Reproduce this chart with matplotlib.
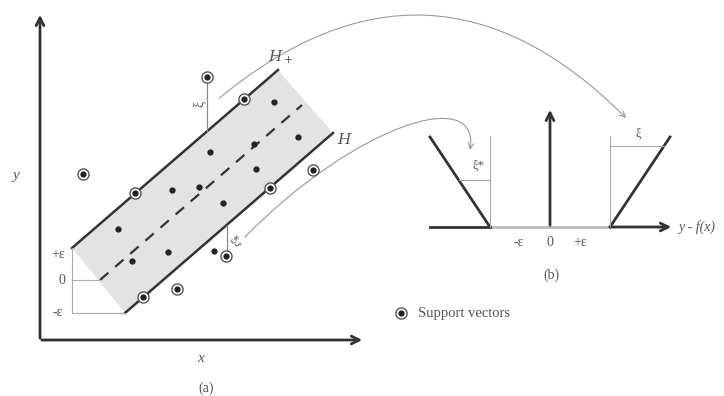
import matplotlib.pyplot as plt
from matplotlib.patches import Polygon, FancyArrowPatch
from matplotlib.path import Path

# Puntos del diagrama (coordenadas en pixeles de la imagen)
dots_x = [274, 210, 254, 298, 256, 172, 199, 118, 223, 168, 132, 214]
dots_y = [102, 152, 144, 137, 169, 190, 187, 229, 203, 252, 261, 251]
sv_x = [207, 244, 313, 83, 135, 270, 226, 177, 143]
sv_y = [77, 99, 170, 174, 193, 188, 256, 289, 297]

# Banda epsilon (H+ arriba, H- abajo)
upper_x = [72, 278]
upper_y = [248, 70]
lower_x = [125, 333]
lower_y = [313, 133]
center_x = [100, 302]
center_y = [280, 105]

# Funcion de perdida (b)
loss_left_x = [430, 490]
loss_left_y = [137, 227]
loss_right_x = [610, 670]
loss_right_y = [227, 137]
loss_ticks = ['-ε', '0', '+ε']
loss_ticks_x = [519, 550, 580]

ink = '#333333'
txt = '#555555'
thin = '#aaaaaa'
serif = ['Liberation Serif', 'DejaVu Serif']

fig = plt.figure(figsize=(7.24, 3.96), dpi=100)
ax = fig.add_axes([0, 0, 1, 1])
ax.set_xlim(0, 724)
ax.set_ylim(396, 0)
ax.axis('off')

# ---- panel (a) ----
ax.annotate('', xy=(40, 12), xytext=(40, 341),
            arrowprops=dict(arrowstyle='->', color=ink, lw=2, mutation_scale=14))
ax.annotate('', xy=(365, 340), xytext=(39, 340),
            arrowprops=dict(arrowstyle='->', color=ink, lw=2, mutation_scale=14))

band = Polygon([(upper_x[0], upper_y[0]), (upper_x[1], upper_y[1]),
                (lower_x[1], lower_y[1]), (lower_x[0], lower_y[0])],
               closed=True, facecolor='#e3e3e3', edgecolor='none', zorder=1)
ax.add_patch(band)
ax.plot(upper_x, upper_y, color=ink, lw=1.8, zorder=2)
ax.plot(lower_x, lower_y, color=ink, lw=1.8, zorder=2)
ax.plot(center_x, center_y, color=ink, lw=1.6, dashes=(5, 4), zorder=2)

# lineas de referencia epsilon
ax.plot([72, 72], [248, 313], color=thin, lw=0.8)
ax.plot([72, 100], [280, 280], color=thin, lw=0.8)
ax.plot([72, 125], [313, 313], color=thin, lw=0.8)
ax.text(58, 255, '+ε', ha='center', va='center', fontsize=10, color=txt, family=serif)
ax.text(62, 281, '0', ha='center', va='center', fontsize=10, color=txt, family=serif)
ax.text(58, 312, '-ε', ha='center', va='center', fontsize=10, color=txt, family=serif)

# holguras
ax.plot([207, 207], [82, 131], color='#888888', lw=0.9)
ax.text(199, 104, 'ξ', ha='center', va='center', fontsize=10, color=txt,
        family=serif, rotation=90)
ax.plot([227, 227], [225, 251], color='#888888', lw=0.9)
ax.text(238, 240, 'ξ*', ha='center', va='center', fontsize=9, color=txt,
        family=serif, rotation=60)

ax.plot(dots_x, dots_y, 'o', color='#222222', ms=3.5, zorder=3)
ax.plot(sv_x, sv_y, 'o', mfc='white', mec='#555555', mew=1.0, ms=8, zorder=3)
ax.plot(sv_x, sv_y, 'o', color='#222222', ms=3.5, zorder=4)

ax.text(281, 57, '$H_+$', ha='center', va='center', fontsize=11, color=txt,
        family=serif, math_fontfamily='dejavuserif')
ax.text(345, 140, '$H$', ha='center', va='center', fontsize=11, color=txt,
        family=serif, math_fontfamily='dejavuserif')
ax.text(16, 175, 'y', ha='center', va='center', fontsize=11, color=txt,
        family=serif, style='italic')
ax.text(201, 358, 'x', ha='center', va='center', fontsize=11, color=txt,
        family=serif, style='italic')
ax.text(206, 388, '(a)', ha='center', va='center', fontsize=10, color=txt, family=serif)

# ---- flechas curvas ----
top_arc = FancyArrowPatch((217, 100), (628, 120), connectionstyle='arc3,rad=-0.46',
                          arrowstyle='->', color='#999999', lw=0.8, mutation_scale=10)
ax.add_patch(top_arc)
low_path = Path([(245, 237), (355, 125), (480, 85), (470, 150)],
                [Path.MOVETO, Path.CURVE4, Path.CURVE4, Path.CURVE4])
low_arc = FancyArrowPatch(path=low_path, arrowstyle='->', color='#999999',
                          lw=0.8, mutation_scale=10)
ax.add_patch(low_arc)

# ---- panel (b) ----
ax.plot([490, 610], [227, 227], color='#bbbbbb', lw=2, zorder=1)
ax.plot([430, 490], [227, 227], color=ink, lw=2)
ax.annotate('', xy=(674, 227), xytext=(609, 227),
            arrowprops=dict(arrowstyle='->', color=ink, lw=2, mutation_scale=14))
ax.annotate('', xy=(550, 107), xytext=(550, 228),
            arrowprops=dict(arrowstyle='->', color=ink, lw=2, mutation_scale=14))
ax.plot(loss_left_x, loss_left_y, color=ink, lw=2)
ax.plot(loss_right_x, loss_right_y, color=ink, lw=2)
ax.plot([490, 490], [136, 227], color=thin, lw=0.8)
ax.plot([610, 610], [136, 227], color=thin, lw=0.8)
ax.plot([459, 490], [180, 180], color=thin, lw=0.8)
ax.plot([610, 664], [146, 146], color=thin, lw=0.8)
ax.text(478, 166, 'ξ*', ha='center', va='center', fontsize=9, color=txt, family=serif)
ax.text(638, 134, 'ξ', ha='center', va='center', fontsize=9, color=txt, family=serif)
for lab, xp in zip(loss_ticks, loss_ticks_x):
    ax.text(xp, 242, lab, ha='center', va='center', fontsize=10, color=txt, family=serif)
ax.text(678, 227, 'y - f(x)', ha='left', va='center', fontsize=10, color=txt,
        family=serif, style='italic')
ax.text(551, 275, '(b)', ha='center', va='center', fontsize=10, color=txt, family=serif)

# leyenda
ax.plot([401], [313], 'o', mfc='white', mec='#555555', mew=1.0, ms=8)
ax.plot([401], [313], 'o', color='#222222', ms=3.5)
ax.text(418, 313, 'Support vectors', ha='left', va='center', fontsize=10.5,
        color=txt, family=serif)

fig.savefig('out.png', dpi=100)
